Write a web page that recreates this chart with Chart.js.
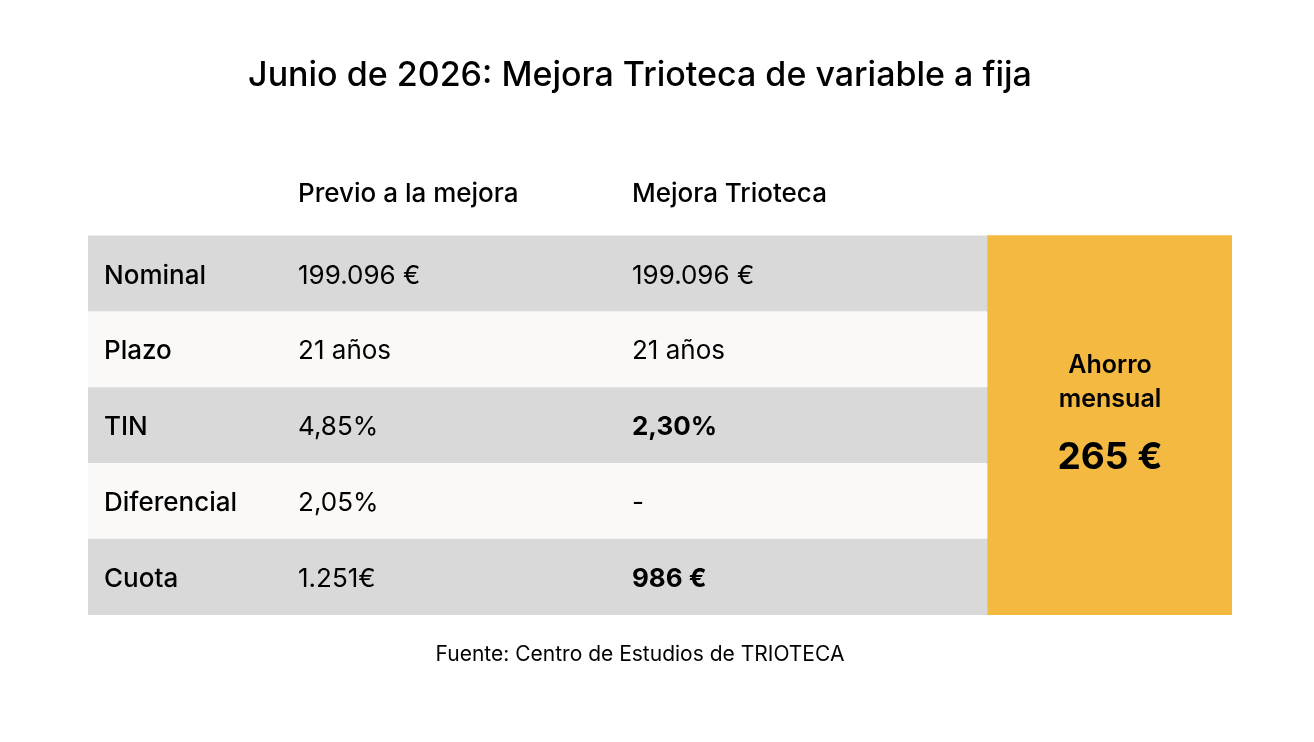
<!DOCTYPE html>
<html>
<head>
<meta charset="utf-8">
<script src="https://cdn.jsdelivr.net/npm/chart.js@4.4.1/dist/chart.umd.min.js"></script>
<style>
html,body{margin:0;padding:0;background:#ffffff;}
#wrap{width:1314px;height:742px;position:relative;}
</style>
</head>
<body>
<div id="wrap"><canvas id="c"></canvas></div>
<script>
// ---- data ----
const titleText = 'Junio de 2026: Mejora Trioteca de variable a fija';
const sourceText = 'Fuente: Centro de Estudios de TRIOTECA';
const headers = ['Previo a la mejora', 'Mejora Trioteca'];
const rowLabels = ['Nominal', 'Plazo', 'TIN', 'Diferencial', 'Cuota'];
const previo = ['199.096 €', '21 años', '4,85%', '2,05%', '1.251€'];
const mejora = ['199.096 €', '21 años', '2,30%', '-', '986 €'];
const mejoraBold = [false, false, true, false, true];
const ahorroLabel = ['Ahorro', 'mensual'];
const ahorroValue = '265 €';

// ---- layout / style ----
const COL = { label: 0.014, previo: 0.1836, mejora: 0.4755, box: 0.7867, boxMid: 0.8934 };
const FONT = 'Inter, "Noto Sans", sans-serif';
const GRAY = '#d9d9d9', LIGHT = '#faf9f7', ORANGE = '#f3b941';

const cats = [''].concat(rowLabels);
const rowBg = cats.map((c, i) => i === 0 ? null : [0, COL.box]);
const rowColors = cats.map((c, i) => i % 2 === 1 ? GRAY : LIGHT);
const boxBg = cats.map((c, i) => i === 0 ? null : [COL.box, 1]);

const textPlugin = {
  id: 'tableText',
  afterDatasetsDraw(chart) {
    const ctx = chart.ctx, x = chart.scales.x, y = chart.scales.y;
    ctx.save();
    ctx.fillStyle = '#000';
    ctx.textBaseline = 'middle';
    // title + source
    ctx.textAlign = 'center';
    ctx.font = '500 34px ' + FONT;
    ctx.fillText(titleText, 640, 76);
    ctx.font = '400 21px ' + FONT;
    ctx.fillText(sourceText, 640, 655);
    // headers
    ctx.textAlign = 'left';
    ctx.font = '500 26px ' + FONT;
    const hy = y.getPixelForValue(0) - 4;
    ctx.fillText(headers[0], x.getPixelForValue(COL.previo), hy);
    ctx.fillText(headers[1], x.getPixelForValue(COL.mejora), hy);
    // rows
    rowLabels.forEach((lab, i) => {
      const py = y.getPixelForValue(i + 1) + 2;
      ctx.font = '500 26px ' + FONT;
      ctx.fillText(lab, x.getPixelForValue(COL.label), py);
      ctx.font = '400 26px ' + FONT;
      ctx.fillText(previo[i], x.getPixelForValue(COL.previo), py);
      ctx.font = (mejoraBold[i] ? '700 ' : '400 ') + '26px ' + FONT;
      ctx.fillText(mejora[i], x.getPixelForValue(COL.mejora), py);
    });
    // box
    ctx.textAlign = 'center';
    const bx = x.getPixelForValue(COL.boxMid);
    const midY = (y.getPixelForValue(1) + y.getPixelForValue(5)) / 2;
    ctx.font = '600 25px ' + FONT;
    ctx.fillText(ahorroLabel[0], bx, midY - 60);
    ctx.fillText(ahorroLabel[1], bx, midY - 26);
    ctx.font = '700 37px ' + FONT;
    ctx.fillText(ahorroValue, bx, midY + 32);
    ctx.restore();
  }
};

new Chart(document.getElementById('c'), {
  type: 'bar',
  data: {
    labels: cats,
    datasets: [
      { data: boxBg, backgroundColor: ORANGE, grouped: false, borderWidth: 0, inflateAmount: 0.6, barPercentage: 1, categoryPercentage: 1 },
      { data: rowBg, backgroundColor: rowColors, grouped: false, borderWidth: 0, inflateAmount: 0.3, barPercentage: 1, categoryPercentage: 1 }
    ]
  },
  options: {
    indexAxis: 'y',
    responsive: true,
    maintainAspectRatio: false,
    animation: false,
    layout: { padding: { left: 88, right: 82, top: 160, bottom: 127 } },
    scales: {
      x: { type: 'linear', min: 0, max: 1, display: false },
      y: { type: 'category', display: false, offset: true }
    },
    plugins: { legend: { display: false }, tooltip: { enabled: false }, title: { display: false } }
  },
  plugins: [textPlugin]
});
</script>
</body>
</html>
